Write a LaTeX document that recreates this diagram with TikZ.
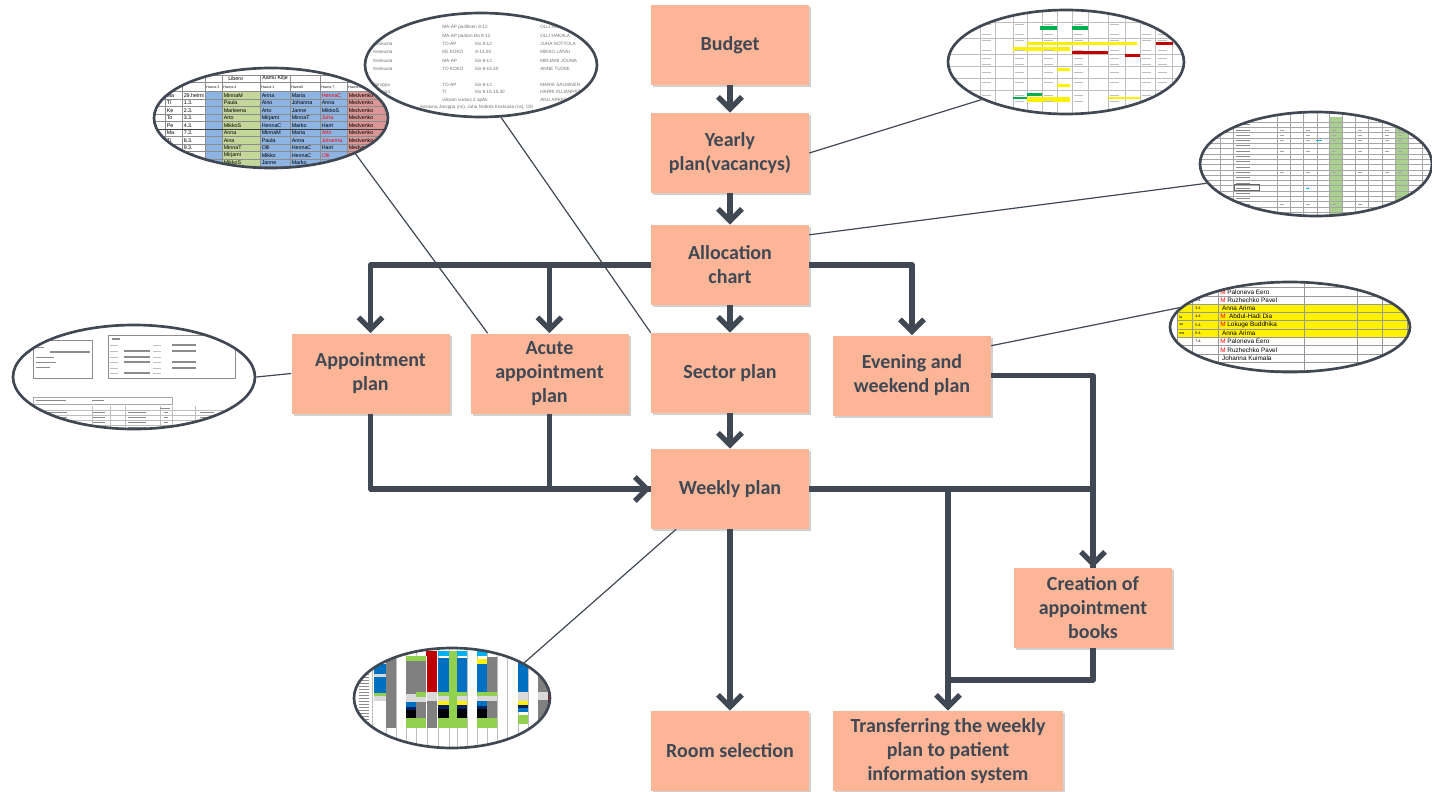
\documentclass[tikz,border=0pt]{standalone}
\usepackage{fontspec}
\setmainfont{Carlito}
\newfontfamily\cellfont{Liberation Sans}
\usetikzlibrary{arrows.meta,shapes.geometric,shadows,calc}

\definecolor{boxfill}{RGB}{252,181,150}
\definecolor{ink}{RGB}{64,72,84}
\definecolor{cellblue}{RGB}{141,180,226}
\definecolor{cellgreen}{RGB}{196,215,155}
\definecolor{cellred}{RGB}{218,150,148}
\definecolor{softgreen}{RGB}{169,208,142}
\definecolor{xlblue}{RGB}{0,112,192}
\definecolor{xlgreen}{RGB}{146,208,80}
\definecolor{xldgreen}{RGB}{0,176,80}
\definecolor{xlred}{RGB}{192,0,0}
\definecolor{xlcyan}{RGB}{0,176,240}
\definecolor{xlnavy}{RGB}{0,32,96}
\definecolor{xlgray}{RGB}{128,128,128}
\definecolor{xllight}{RGB}{217,217,217}
\definecolor{gridline}{RGB}{190,190,190}

\tikzset{
  planbox/.style={fill=boxfill, text=ink, align=center, minimum width=118.5pt, minimum height=60pt, inner sep=2pt,
    font=\fontsize{15}{18}\selectfont\bfseries, drop shadow={shadow xshift=1.5pt, shadow yshift=-1.5pt, opacity=0.3, fill=black!60}},
  flow/.style={draw=ink, line width=4pt, line join=round, -{Straight Barb[length=9pt,width=18pt]}},
  joinline/.style={draw=ink, line width=4pt, line join=round},
  callout/.style={draw=ink, line width=0.9pt},
  lens/.style={ellipse, draw=ink, line width=2pt, inner sep=0pt},
  celltext/.style={font=\cellfont\fontsize{4}{4.5}\selectfont, inner sep=0pt, anchor=west},
  greektext/.style={draw=black!45, line width=0.7pt},
}

\begin{document}
\begin{tikzpicture}[x=0.75pt,y=0.75pt,yscale=-1,xscale=1]
\useasboundingbox (0,0) rectangle (1432,792);

%Lens: duty roster (top left)
\begin{scope}
  \clip (271,118) ellipse [x radius=117, y radius=50];
  \fill[white] (150,60) rectangle (400,175);
  \fill[cellblue] (205,91.7) rectangle (222,175);
  \fill[cellgreen] (222,91.7) rectangle (260,175);
  \fill[cellblue] (260,91.7) rectangle (347,175);
  \fill[cellred] (347,91.7) rectangle (400,175);
  \foreach \y in {75,82,91.7,99.2,106.7,114.2,121.7,129.2,136.7,144.2,151.7,159.2,166.7}
    \draw[black!45, line width=0.4pt] (150,\y) -- (400,\y);
  \foreach \x in {165,182,205,222,260,290,320,347,387}
    \draw[black!45, line width=0.4pt] (\x,75) -- (\x,175);
  \draw[black!75, line width=0.8pt] (150,129.2) -- (400,129.2);
  \node[celltext] at (228,78.5) {Libero};
  \node[celltext] at (262,78.5) {Aamu Kilje};
  \foreach \x/\n in {206/Huone 3,223/Huone 4,261/Huone 1,291/Huone5,321/Huone 7,348/Huone 24}
    \node[celltext, font=\cellfont\fontsize{2.6}{3}\selectfont] at (\x,87) {\n};
  \node[celltext] at (153,110.5) {9};
  \foreach \n [count=\i] in {Ma,Ti,Ke,To,Pe,Ma,Ti}
    \node[celltext] at (166.5,87.95+7.5*\i) {\n};
  \foreach \n [count=\i] in {29.helmi,1.3.,2.3.,3.3.,4.3.,7.3.,8.3.,9.3.,10.3.}
    \node[celltext] at (183.5,87.95+7.5*\i) {\n};
  \foreach \n [count=\i] in {MinnaM,Paula,Marleena,Arto,MikkoS,Anna,Aina,MinnaT,Mirjami,MikkoS}
    \node[celltext] at (223.5,87.95+7.5*\i) {\n};
  \foreach \n [count=\i] in {Anna,Aino,Arto,Mirjami,HennaC,MinnaM,Paula,Olli,Mikko,Janne}
    \node[celltext] at (261.5,87.95+7.5*\i) {\n};
  \foreach \n [count=\i] in {Maria,Johanna,Janne,MinnaT,Marko,Maria,Anna,HennaC,HennaC,Marko}
    \node[celltext] at (291.5,87.95+7.5*\i) {\n};
  \foreach \n/\c [count=\i] in {HennaC/red,Anna/black,MikkoS/black,Juha/red,Harri/black,Arto/red,Johanna/red,Harri/black,Olli/red}
    \node[celltext, text=\c] at (321.5,87.95+7.5*\i) {\n};
  \foreach \i in {1,...,10}
    \node[celltext] at (348.5,87.95+7.5*\i) {Medvenko};
\end{scope}

%Lens: sector list (top middle)
\begin{scope}[every node/.style={celltext, text=black!55, font=\cellfont\fontsize{3.5}{4}\selectfont}]
  \clip (481,65) ellipse [x radius=116, y radius=52];
  \fill[white] (360,10) rectangle (600,120);
  \node at (442,27) {MA-AP parillinen 8-12};
  \node at (540,27) {OLLI HAKALA};
  \node at (442,36) {MA-AP pariton klo 8-12};
  \node at (540,36) {OLLI HAKALA};
  \foreach \y/\a/\b/\c/\d in {44/Keskusta/TO-AP/klo 8-12/JUHA NOTTOLA,52/Keskusta/KE KOKO/8-14.00/MIKKO LÄNSI,
      61/Keskusta/MA-AP/klo 8-12/MIRJAMI JOUMA,69/Keskusta/TO KOKO/klo 8-15.30/ANNE TUOMI,
      85/Jarvppa/TO-AP/klo 8-12/MARIA SALMINEN,92/Jarvppa/TI/klo 9.15-15.30/HARRI KUJANPÄÄ}
  {
    \node at (373,\y) {\a};
    \node at (442,\y) {\b};
    \node at (475,\y) {\c};
    \node at (540,\y) {\d};
  }
  \node at (442,100) {viikoon vuotus 2 apAk};
  \node at (540,100) {ANU ARKKO};
  \node at (420,107) {Keravna Jarvppa (ns), Juha Nottola Keskusta (ns), Olli};
\end{scope}

%Lens: yearly sheet (top right)
\begin{scope}
  \clip (1066,62) ellipse [x radius=118, y radius=52];
  \fill[white] (940,5) rectangle (1190,120);
  \foreach \x in {980,995,1013,1027,1042,1057,1072,1088,1108,1125,1140,1155,1172}
    \draw[gridline, line width=0.3pt] (\x,5) -- (\x,120);
  \foreach \y in {22,38,54,66,78,90}
    \draw[gridline, line width=0.3pt] (940,\y) -- (1190,\y);
  \fill[xldgreen] (1040,26) rectangle (1057,30);
  \fill[xldgreen] (1072,26) rectangle (1088,30);
  \fill[yellow] (1027,42) rectangle (1137,45);
  \fill[yellow] (1013,47.5) rectangle (1070,51);
  \fill[xlred] (1072,51) rectangle (1108,54);
  \fill[xlred] (1125,54) rectangle (1140,57);
  \fill[xlred] (1156,42) rectangle (1173,45);
  \fill[yellow] (1057,68) rectangle (1070,71);
  \fill[yellow] (1057,84) rectangle (1070,87);
  \fill[xldgreen] (1027,93.5) rectangle (1042,96);
  \fill[xldgreen] (1013,97) rectangle (1027,99.5);
  \fill[yellow] (1027,97) rectangle (1070,102);
  \fill[yellow] (1108,97) rectangle (1140,99.5);
  \fill[xldgreen] (1140,101) rectangle (1153,103.5);
  \foreach \x in {982,1015,1044,1074,1110,1142,1158}
    \foreach \y in {24,34,40,50,58,64,72,82,95,101}
      \draw[greektext, draw=black!25, line width=0.5pt] (\x,\y) -- ++(9,0);
\end{scope}

%Lens: allocation sheet (right)
\begin{scope}
  \clip (1316,164) ellipse [x radius=116, y radius=52];
  \fill[white] (1195,110) rectangle (1435,220);
  \fill[softgreen] (1329,117) rectangle (1342,220);
  \fill[softgreen] (1395,117) rectangle (1408,220);
  \foreach \x in {1220,1233,1277,1290,1303,1317,1329,1342,1355,1368,1382,1395,1408,1422}
    \draw[black!35, line width=0.3pt] (\x,110) -- (\x,220);
  \foreach \y in {122,127.3,...,217}
    \draw[black!35, line width=0.3pt] (1195,\y) -- (1435,\y);
  \foreach \y in {124.6,129.9,...,214}
    \draw[greektext, line width=0.5pt] (1236,\y) -- ++(14,0);
  \foreach \x in {1280,1306,1332,1358,1385,1398}
    \foreach \y in {130,135.3,140.6,151.2,172.4,204.2}
      \draw[greektext, draw=black!35, line width=0.5pt] (\x,\y) -- ++(4,0);
  \draw[xlcyan, line width=0.6pt] (1316,140.6) -- ++(6,0);
  \draw[xlcyan, line width=0.6pt] (1306,188.3) -- ++(3,0);
  \draw[black!60, line width=0.4pt] (1234,184.5) rectangle (1259,190);
\end{scope}

%Lens: evening and weekend list (right)
\begin{scope}
  \clip (1290,327) ellipse [x radius=120, y radius=45];
  \fill[white] (1165,275) rectangle (1415,375);
  \fill[yellow] (1177,304.1) rectangle (1410,337.3);
  \foreach \y in {287.5,295.8,304.1,312.4,320.7,329,337.3,345.6,353.9,362.2,370.5}
    \draw[black!40, line width=0.4pt] (1177,\y) -- (1410,\y);
  \foreach \x in {1177,1192,1218,1304,1357,1382,1407}
    \draw[black!40, line width=0.4pt] (\x,280) -- (\x,375);
  \draw[greektext, line width=0.5pt] (1200,279) -- (1400,279);
  \node[celltext, font=\cellfont\bfseries\fontsize{2.8}{3}\selectfont] at (1318,284) {akt.tunnit};
  \node[celltext, font=\cellfont\bfseries\fontsize{2.8}{3}\selectfont] at (1362,284) {rahana};
  \foreach \n [count=\i] in {,to,pe,la,su,ma}
    \node[celltext, font=\cellfont\fontsize{2.8}{3}\selectfont] at (1179,283.5+8.3*\i) {\n};
  \foreach \n [count=\i] in {1.4.,2.4.,3.4.,4.4.,5.4.,6.4.,7.4.}
    \node[celltext, font=\cellfont\fontsize{2.8}{3}\selectfont] at (1195,283.5+8.3*\i) {\n};
  \foreach \m/\n [count=\i] in {M/Paloneva Eero,M/Ruzhechko Pavel,/Anna Arima,M/\ Abdul-Hadi Dia,M/Lokuge Buddhika,/Anna Arima,M/Paloneva Eero,M/Ruzhechko Pavel,/Johanna Kuimala}
    \node[celltext, font=\cellfont\fontsize{4.8}{5}\selectfont] at (1220,283.5+8.3*\i) {\textcolor{red}{\m} \n};
\end{scope}

%Lens: appointment sheet (left)
\begin{scope}
  \clip (134,377) ellipse [x radius=121, y radius=52];
  \fill[white] (5,320) rectangle (260,435);
  \draw[black!45, line width=0.5pt] (33,340) rectangle (92,378);
  \draw[black!45, line width=0.5pt] (108,335) rectangle (235,378);
  \draw[greektext] (36,347) -- ++(8,0);
  \draw[greektext, line width=1pt] (50,352) -- ++(40,0);
  \draw[greektext] (24,352) -- ++(6,0);
  \draw[greektext] (36,357) -- ++(18,0);
  \draw[greektext] (36,362) -- ++(20,0);
  \draw[greektext] (36,367) -- ++(14,0);
  \draw[greektext, line width=1pt] (112,339) -- ++(8,0);
  \foreach \y in {345,351,357,362,368,373}
  {
    \draw[greektext, draw=black!25] (110,\y) -- ++(8,0);
    \draw[greektext, draw=black!25] (153,\y) -- ++(8,0);
  }
  \foreach \y in {351,357,362,373}
    \draw[greektext, line width=0.9pt] (124,\y) -- ++(26,0);
  \foreach \y in {345,351,362,368}
    \draw[greektext, line width=0.9pt] (172,\y) -- ++(24,0);
  \draw[black!35, line width=0.5pt] (33,397) rectangle (172,404);
  \draw[greektext] (36,400.5) -- ++(30,0);
  \draw[greektext] (92,400.5) -- ++(12,0);
  \foreach \y in {410,415,420,425,430}
    \draw[gridline, line width=0.4pt] (15,\y) -- (255,\y);
  \foreach \x in {92,110,125,160,172,195,230}
    \draw[gridline, line width=0.4pt] (\x,406) -- (\x,435);
  \draw[greektext] (160,408) -- ++(10,0);
  \foreach \y in {412.5,417.5,422.5,427.5}
  {
    \draw[greektext, line width=1pt] (27,\y) -- ++(40,0);
    \draw[greektext, line width=1pt] (93,\y) -- ++(12,0);
    \draw[greektext, line width=0.8pt] (128,\y) -- ++(18,0);
    \draw[greektext, line width=0.8pt] (164,\y) -- ++(4,0);
    \draw[greektext, line width=0.8pt] (200,\y) -- ++(14,0);
  }
\end{scope}

%Lens: weekly chart (bottom)
\begin{scope}
  \clip (452,698) ellipse [x radius=98, y radius=50];
  \fill[white] (350,645) rectangle (555,752);
  \foreach \x in {372,386,396,406,416,427,438,449,457,467,477,487,497,507,518,528,538,550}
    \draw[gridline, line width=0.3pt] (\x,645) -- (\x,752);
  \foreach \y in {668,671,...,726}
    \draw[greektext, line width=0.4pt] (359,\y) -- ++(10,0);
  % header marks
  \fill[xlred] (426,651) rectangle (437,655.5);
  \fill[xlcyan] (438,651) rectangle (449,655.5);
  \fill[xlgreen] (449,651) rectangle (457,655.5);
  \fill[xlcyan] (457,651) rectangle (467,655.5);
  \fill[xlcyan] (477,651) rectangle (487,655.5);
  % column 1 and 2
  \fill[xlblue] (374,664) rectangle (386,674);
  \fill[xllight] (374,674) rectangle (386,677);
  \fill[xlblue] (374,677) rectangle (386,693);
  \fill[xlgreen] (374,693) rectangle (386,696);
  \fill[xllight] (374,696) rectangle (386,701);
  \fill[xlgray] (386,657) rectangle (396,728);
  % column 3
  \fill[xlgreen] (406,656) rectangle (416,661);
  \fill[xlgray] (406,661) rectangle (416,694);
  \fill[xllight] (406,694) rectangle (416,702);
  \fill[xlblue] (406,702) rectangle (416,707);
  \fill[xlnavy] (406,707) rectangle (416,710);
  \fill[black] (406,710) rectangle (416,718);
  \fill[xlgreen] (406,718) rectangle (416,728);
  % column 4
  \fill[xlgreen] (416,656) rectangle (426,661);
  \fill[xlgray] (416,661) rectangle (426,692);
  \fill[xlgreen] (416,692) rectangle (426,697);
  \fill[xllight] (416,697) rectangle (426,702);
  \fill[xlgray] (416,702) rectangle (426,718);
  \fill[xlgreen] (416,718) rectangle (426,728);
  % column 5
  \fill[xlred] (427,655) rectangle (437,692);
  \fill[xllight] (427,692) rectangle (437,701);
  \fill[xlgray] (427,701) rectangle (437,728);
  % columns 6 to 8
  \foreach \a/\b in {438/449,457/467}
  {
    \fill[xlblue] (\a,658) rectangle (\b,692);
    \fill[xlgreen] (\a,692) rectangle (\b,696);
    \fill[xllight] (\a,696) rectangle (\b,701);
    \fill[yellow] (\a,701) rectangle (\b,705);
    \fill[xlnavy] (\a,705) rectangle (\b,709);
    \fill[black] (\a,709) rectangle (\b,718);
    \fill[xlgreen] (\a,718) rectangle (\b,728);
  }
  \fill[xlgreen] (449,655) rectangle (457,728);
  % column 9
  \fill[yellow] (477,659) rectangle (487,664);
  \fill[xlblue] (477,664) rectangle (487,692);
  \fill[xlgreen] (477,692) rectangle (487,696);
  \fill[xllight] (477,696) rectangle (487,701);
  \fill[xlblue] (477,701) rectangle (487,706);
  \fill[xlnavy] (477,706) rectangle (487,709);
  \fill[black] (477,709) rectangle (487,718);
  \fill[xlgreen] (477,718) rectangle (487,728);
  % column 10
  \fill[xlgray] (487,657) rectangle (497,692);
  \fill[xlgreen] (487,692) rectangle (497,696);
  \fill[xllight] (487,696) rectangle (497,701);
  \fill[xlgray] (487,701) rectangle (497,718);
  \fill[xlgreen] (487,718) rectangle (497,728);
  % column 11 and 12
  \fill[xlgreen] (518,656) rectangle (528,660);
  \fill[xlblue] (518,662) rectangle (528,692);
  \fill[xllight] (518,692) rectangle (528,701);
  \fill[yellow] (518,701) rectangle (528,705);
  \fill[xlnavy] (518,705) rectangle (528,708);
  \fill[xlblue] (518,708) rectangle (528,712);
  \fill[xlgreen] (518,715) rectangle (528,724);
  \fill[xlgray] (538,656) rectangle (550,692);
  \fill[xllight] (538,692) rectangle (550,700);
  \fill[xlgray] (538,700) rectangle (550,728);
  \fill[xlred] (548,656) rectangle (552,728);
\end{scope}

%Shape: Lens outlines
\node[lens, minimum width=175.5pt, minimum height=75pt] (lensA) at (271,118) {};
\node[lens, minimum width=174pt, minimum height=78pt] (lensB) at (481,65) {};
\node[lens, minimum width=177pt, minimum height=78pt] (lensC) at (1066,62) {};
\node[lens, minimum width=174pt, minimum height=78pt] (lensD) at (1316,164) {};
\node[lens, minimum width=180pt, minimum height=67.5pt] (lensE) at (1290,327) {};
\node[lens, minimum width=181.5pt, minimum height=78pt] (lensF) at (134,377) {};
\node[lens, minimum width=147pt, minimum height=75pt] (lensG) at (452,698) {};

% Text Node
\node[planbox] (budget) at (730,45) {Budget};
\node[planbox] (yearly) at (730,153) {Yearly\\plan(vacancys)};
\node[planbox] (alloc) at (730,265) {Allocation\\chart};
\node[planbox] (appt) at (370.5,373.5) {Appointment\\plan};
\node[planbox] (acute) at (549.5,373.5) {Acute\\appointment\\plan};
\node[planbox] (sector) at (730,373) {Sector plan};
\node[planbox] (evening) at (912,375.5) {Evening and\\weekend plan};
\node[planbox] (weekly) at (730,489) {Weekly plan};
\node[planbox] (creation) at (1093,608) {Creation of\\appointment\\books};
\node[planbox] (room) at (730,751) {Room selection};
\node[planbox, minimum width=172.5pt] (transfer) at (948,751) {Transferring the weekly\\plan to patient\\information system};

\coordinate (merge) at (948,680);

%Connectors
\draw[flow] (budget) -- (yearly);
\draw[flow] (yearly) -- (alloc);
\draw[flow] (alloc) -- (sector);
\draw[flow] (sector) -- (weekly);
\draw[flow] (weekly) -- (room);
\draw[flow] (alloc.west) -| (appt.north);
\draw[flow] (alloc.west) -| (acute.north);
\draw[flow] (alloc.east) -| (evening.north);
\draw[flow] (appt.south) |- (weekly.west);
\draw[joinline] (acute.south) |- (weekly.west);
\draw[flow] (evening.east) -| (creation.north);
\draw[joinline] (weekly.east) -| (creation.north);
\draw[flow] (weekly.east) -| (transfer.north);
\draw[joinline] (creation.south) |- (merge);

%Callouts
\draw[callout] (lensA.-23) -- ($(acute.north west)!0.11!(acute.north east)$);
\draw[callout] (lensB.-69) -- (sector.north west);
\draw[callout] (lensC.204) -- (yearly.east);
\draw[callout] (lensD.190) -- ($(alloc.north east)!0.125!(alloc.south east)$);
\draw[callout] (lensE.170) -- ($(evening.north east)!0.13!(evening.south east)$);
\draw[callout] (lensF.0) -- (appt.west);
\draw[callout] (lensG.26) -- ($(weekly.south west)!0.16!(weekly.south east)$);
\end{tikzpicture}
\end{document}
